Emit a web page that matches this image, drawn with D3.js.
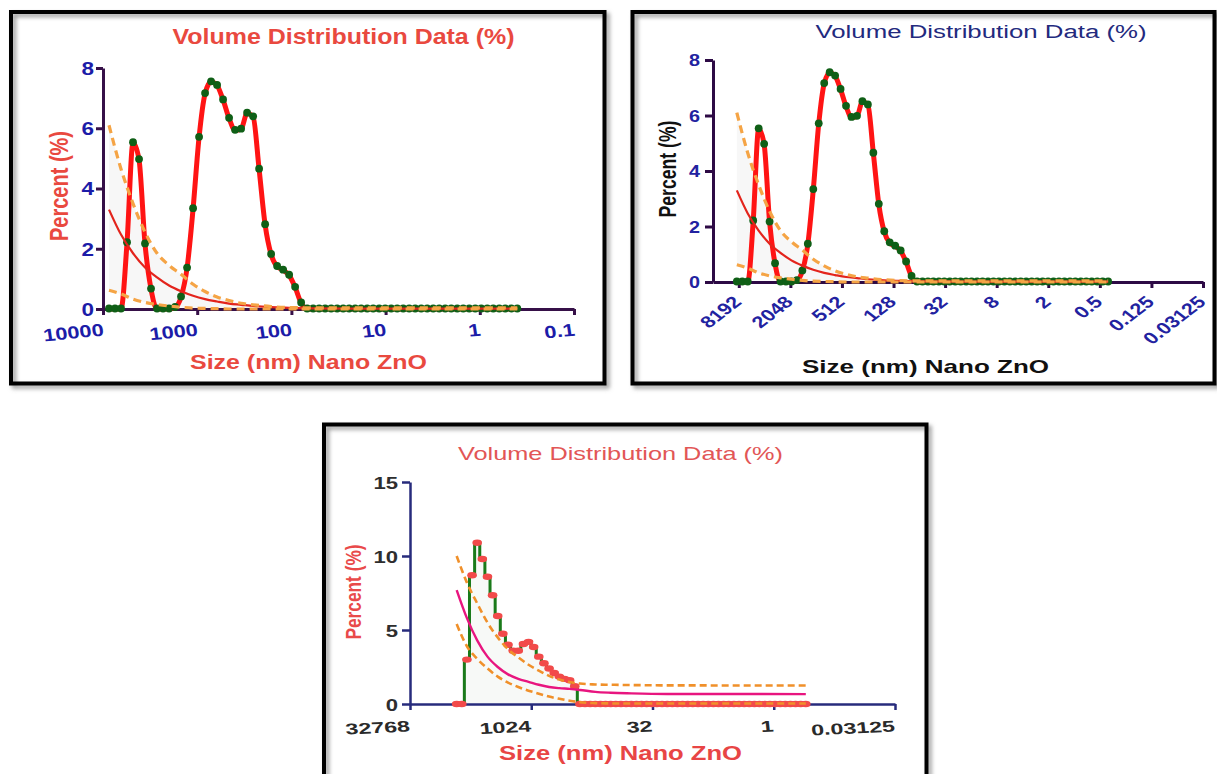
<!DOCTYPE html>
<html>
<head>
<meta charset="utf-8">
<script src="https://cdn.jsdelivr.net/npm/d3@7/dist/d3.min.js"></script>
<style>
  body { margin: 0; background: #fff; }
  svg { display: block; }
</style>
</head>
<body>
<svg></svg>
<script>
// size classes (nm), largest first
const sizeBins = [8635, 7456, 6439, 5560, 4801, 4145, 3580, 3091, 2669, 2305, 1990, 1718, 1484, 1281, 1106,
  955.4, 825.0, 712.4, 615.1, 531.2, 458.7, 396.1, 342.0, 295.3, 255.0, 220.2, 190.1, 164.2, 141.8, 122.4,
  105.7, 91.28, 78.82, 68.06, 58.77, 50.75, 43.82, 37.84, 32.67, 28.21, 24.36, 21.04, 18.17, 15.69, 13.54,
  11.7, 10.1, 8.721, 7.531, 6.503, 5.615, 4.849, 4.187, 3.615, 3.122, 2.696, 2.328, 2.01, 1.736, 1.499,
  1.294, 1.117, 0.9649, 0.8332, 0.7195, 0.6213, 0.5365, 0.4632, 0.4];

// volume % (top two charts)
const volumeA = [0, 0, 0, 2.2, 5.52, 4.96, 2.16, 0.66, 0, 0, 0, 0.05, 0.4, 1.36, 3.33,
  5.7, 7.15, 7.54, 7.42, 6.94, 6.33, 5.93, 5.97, 6.5, 6.38, 4.64, 2.8, 1.81, 1.41, 1.29,
  1.12, 0.72, 0.2, 0, 0, 0, 0, 0, 0, 0, 0, 0, 0, 0, 0,
  0, 0, 0, 0, 0, 0, 0, 0, 0, 0, 0, 0, 0, 0, 0,
  0, 0, 0, 0, 0, 0, 0, 0, 0];

// volume % (bottom chart)
const volumeB = [0, 0, 3.0, 8.7, 10.9, 9.8, 8.6, 7.35, 5.95, 4.75, 4.0, 3.6, 3.6, 4.05, 4.2,
  3.85, 3.2, 2.75, 2.4, 2.1, 1.85, 1.7, 1.6, 1.2, 0, 0, 0, 0, 0, 0,
  0, 0, 0, 0, 0, 0, 0, 0, 0, 0, 0, 0, 0, 0, 0,
  0, 0, 0, 0, 0, 0, 0, 0, 0, 0, 0, 0, 0, 0, 0,
  0, 0, 0, 0, 0, 0, 0, 0, 0];

// fitted decay curves and their bands
const fitSizes = [8635, 6439, 4801, 3580, 2669, 1990, 1484, 1106, 825, 615.1, 458.7, 342, 255, 164.2, 105.7, 58.77, 21.04, 0.4];
const fitMidA  = [3.3, 2.47, 1.85, 1.38, 1.05, 0.78, 0.59, 0.44, 0.33, 0.25, 0.18, 0.14, 0.1, 0.06, 0.04, 0.02, 0.01, 0.01];
const fitHighA = [6.1, 4.65, 3.5, 2.55, 1.85, 1.45, 1.15, 0.82, 0.58, 0.4, 0.28, 0.19, 0.14, 0.08, 0.05, 0.04, 0.04, 0.04];
const fitLowA  = [0.62, 0.5, 0.33, 0.22, 0.15, 0.1, 0.06, 0.03, 0.02, 0.01, 0, 0, 0, 0, 0, 0, 0, 0];
const fitMidB  = [7.7, 5.8, 4.3, 3.2, 2.5, 2.0, 1.7, 1.5, 1.3, 1.15, 1.07, 1.02, 0.95, 0.82, 0.76, 0.72, 0.68, 0.67];
const fitHighB = [10.0, 8.2, 6.8, 5.5, 4.5, 3.7, 3.15, 2.65, 2.25, 1.9, 1.65, 1.48, 1.38, 1.32, 1.3, 1.28, 1.26, 1.25];
const fitLowB  = [5.4, 3.9, 3.05, 2.4, 1.85, 1.45, 1.15, 0.9, 0.7, 0.5, 0.35, 0.22, 0.12, 0.06, 0.04, 0.03, 0.03, 0.03];

const p1XTicks = [10000, 1000, 100, 10, 1, 0.1];
const p1YTicks = [0, 2, 4, 6, 8];
const p2XTicks = [8192, 2048, 512, 128, 32, 8, 2, 0.5, 0.125, 0.03125];
const p2YTicks = [0, 2, 4, 6, 8];
const p3XTicks = [32768, 1024, 32, 1, 0.03125];
const p3YTicks = [0, 5, 10, 15];

const titleText = "Volume Distribution Data (%)";
const xTitleText = "Size (nm) Nano ZnO";
const yTitleText = "Percent (%)";

const FONT = "'Liberation Sans', Arial, sans-serif";

let svg = d3.select("svg").attr("width", 1217).attr("height", 774);

svg.append("defs").append("filter").attr("id", "soft")
    .append("feGaussianBlur").attr("stdDeviation", 2);

function drawFrame(x, y, w, h) {
    svg.append("rect")
        .attr("x", x + 3).attr("y", y + 3).attr("width", w).attr("height", h)
        .attr("fill", "none").attr("stroke", "#9a9a9a").attr("stroke-width", 4)
        .attr("filter", "url(#soft)");
    svg.append("rect")
        .attr("x", x).attr("y", y).attr("width", w).attr("height", h)
        .attr("fill", "none").attr("stroke", "#000").attr("stroke-width", 4);
}

function putText(g, str, o) {
    return g.append("text")
        .attr("transform", `translate(${o.x},${o.y})` + (o.rot ? ` rotate(${o.rot})` : ""))
        .attr("text-anchor", "middle")
        .attr("font-family", FONT)
        .attr("font-size", o.size)
        .attr("font-weight", o.bold ? "bold" : "normal")
        .attr("fill", o.color)
        .attr("textLength", o.len)
        .attr("lengthAdjust", "spacingAndGlyphs")
        .text(str);
}

function styleAxis(ax, color, width) {
    ax.attr("font-family", FONT);
    ax.select(".domain").attr("stroke", color).attr("stroke-width", width);
    ax.selectAll(".tick line").attr("stroke", color).attr("stroke-width", width);
}

function xLabels(ax, o) {
    ax.selectAll(".tick text")
        .attr("y", 0).attr("dy", 0)
        .attr("text-anchor", "end")
        .attr("font-size", o.size)
        .attr("font-weight", "bold")
        .attr("fill", o.color)
        .attr("transform", `translate(${o.dx},${o.dy}) scale(${o.sx},1) rotate(${o.rot})`);
}

function yLabels(ax, o) {
    ax.selectAll(".tick text")
        .attr("x", 0).attr("dy", "0.36em")
        .attr("text-anchor", "end")
        .attr("font-size", o.size)
        .attr("font-weight", "bold")
        .attr("fill", o.color)
        .attr("transform", `translate(${o.dx},0) scale(${o.sx},1)`);
}

function fitRows(mid, hi, lo) {
    return fitSizes.map((s, i) => ({ s: s, mid: mid[i], hi: hi[i], lo: lo[i] }));
}

// top charts: smooth red line with green dots
function drawDotChart(g, x, y, c) {
    let pts = sizeBins.map((s, i) => ({ s: s, v: volumeA[i] }));
    let fit = fitRows(fitMidA, fitHighA, fitLowA);

    g.append("path").datum(fit)
        .attr("d", d3.area().x(d => x(d.s)).y0(d => y(d.lo)).y1(d => y(d.hi)).curve(d3.curveMonotoneX))
        .attr("fill", "#f7f7f7");

    let xa = g.append("g").attr("transform", `translate(0,${y(0)})`)
        .call(d3.axisBottom(x).tickValues(c.xTicks).tickFormat(d => d).tickSize(6).tickSizeOuter(0));
    styleAxis(xa, c.axisColor, 3);
    xLabels(xa, c.xLab);

    let ya = g.append("g").attr("transform", `translate(${x.range()[0]},0)`)
        .call(d3.axisLeft(y).tickValues(c.yTicks).tickFormat(d => d).tickSize(c.yTick).tickSizeOuter(0));
    styleAxis(ya, c.axisColor, 3);
    yLabels(ya, c.yLab);

    g.append("path").datum(pts)
        .attr("d", d3.line().x(d => x(d.s)).y(d => y(d.v)).curve(d3.curveMonotoneX))
        .attr("fill", "none").attr("stroke", "#ff1414").attr("stroke-width", 5)
        .attr("stroke-linejoin", "round");

    g.selectAll("circle.pt").data(pts).join("circle")
        .attr("class", "pt")
        .attr("cx", d => x(d.s)).attr("cy", d => y(d.v) - 0.5).attr("r", 3.9)
        .attr("fill", "#0f5f16");

    let fitLine = key => d3.line().x(d => x(d.s)).y(d => y(d[key])).curve(d3.curveMonotoneX);
    g.append("path").datum(fit).attr("d", fitLine("mid"))
        .attr("fill", "none").attr("stroke", "#e3241c").attr("stroke-width", 2.2);
    ["hi", "lo"].forEach(k => {
        g.append("path").datum(fit).attr("d", fitLine(k))
            .attr("fill", "none").attr("stroke", "#f5a445").attr("stroke-width", 3.2)
            .attr("stroke-dasharray", "8,5");
    });
}

// ---- chart 1 ----
drawFrame(11, 12, 593.5, 371.5);
let g1 = svg.append("g");
let x1 = d3.scaleLog().domain([10000, 0.1]).range([103, 574]);
let y1 = d3.scaleLinear().domain([0, 8]).range([309, 68]);
drawDotChart(g1, x1, y1, {
    xTicks: p1XTicks, yTicks: p1YTicks, axisColor: "#361048", yTick: 7,
    xLab: { size: 17.5, color: "#1c1ca8", dx: 1, dy: 26.5, sx: 1.25, rot: -7 },
    yLab: { size: 18, color: "#1c1ca8", dx: -9, sx: 1.25 }
});
putText(g1, titleText, { x: 343.5, y: 43.5, size: 21.5, bold: true, color: "#e9493f", len: 342 });
putText(g1, xTitleText, { x: 308.5, y: 368.5, size: 20.5, bold: true, color: "#e9493f", len: 237 });
putText(g1, yTitleText, { x: 68, y: 186, rot: -90, size: 25, bold: true, color: "#e9493f", len: 110 });

// ---- chart 2 ----
drawFrame(632.5, 12, 582, 371.5);
let g2 = svg.append("g");
let x2 = d3.scaleLog().base(2).domain([16384, 0.03125]).range([713, 1203]);
let y2 = d3.scaleLinear().domain([0, 8]).range([282, 60]);
drawDotChart(g2, x2, y2, {
    xTicks: p2XTicks, yTicks: p2YTicks, axisColor: "#2d0a45", yTick: 8,
    xLab: { size: 16.5, color: "#2222a0", dx: 3.4, dy: 21, sx: 1.3, rot: -45 },
    yLab: { size: 16.5, color: "#2222a0", dx: -13, sx: 1.2 }
});
putText(g2, titleText, { x: 981, y: 37.5, size: 18, bold: false, color: "#232a7e", len: 331 });
putText(g2, xTitleText, { x: 925.5, y: 372.5, size: 19, bold: true, color: "#111", len: 247 });
putText(g2, yTitleText, { x: 676, y: 169, rot: -90, size: 24, bold: true, color: "#111", len: 97 });

// ---- chart 3 ----
drawFrame(324, 424.5, 602.5, 360);
let g3 = svg.append("g");
let x3 = d3.scaleLog().base(2).domain([32768, 0.03125]).range([410, 895]);
let y3 = d3.scaleLinear().domain([0, 15]).range([704, 482]);

let pts3 = sizeBins.map((s, i) => ({ s: s, v: volumeB[i] }));
let fit3 = fitRows(fitMidB, fitHighB, fitLowB);

g3.append("path").datum(pts3)
    .attr("d", d3.area().x(d => x3(d.s)).y0(y3(0)).y1(d => y3(d.v)).curve(d3.curveStep))
    .attr("fill", "#f7f9f7");

let xa3 = g3.append("g").attr("transform", `translate(0,${y3(0)})`)
    .call(d3.axisBottom(x3).tickValues(p3XTicks).tickFormat(d => d).tickSize(6).tickSizeOuter(0));
styleAxis(xa3, "#272b7c", 2.5);
xLabels(xa3, { size: 15.5, color: "#2a2a2a", dx: 0, dy: 27.5, sx: 1.5, rot: -4 });

let ya3 = g3.append("g").attr("transform", `translate(${x3.range()[0]},0)`)
    .call(d3.axisLeft(y3).tickValues(p3YTicks).tickFormat(d => d).tickSize(8).tickSizeOuter(0));
styleAxis(ya3, "#272b7c", 2.5);
yLabels(ya3, { size: 17, color: "#2e2e2e", dx: -12, sx: 1.3 });

g3.append("path").datum(pts3)
    .attr("d", d3.line().x(d => x3(d.s)).y(d => y3(d.v)).curve(d3.curveStep))
    .attr("fill", "none").attr("stroke", "#1a7a1a").attr("stroke-width", 3);

g3.selectAll("ellipse.pt").data(pts3).join("ellipse")
    .attr("class", "pt")
    .attr("cx", d => x3(d.s)).attr("cy", d => y3(d.v))
    .attr("rx", 4.8).attr("ry", 3.2)
    .attr("fill", "#f24a4a");

let fitLine3 = key => d3.line().x(d => x3(d.s)).y(d => y3(d[key])).curve(d3.curveMonotoneX);
["hi", "lo"].forEach(k => {
    g3.append("path").datum(fit3).attr("d", fitLine3(k))
        .attr("fill", "none").attr("stroke", "#f0902a").attr("stroke-width", 2.6)
        .attr("stroke-dasharray", "7,4");
});
g3.append("path").datum(fit3).attr("d", fitLine3("mid"))
    .attr("fill", "none").attr("stroke", "#e8157f").attr("stroke-width", 2.4);

putText(g3, titleText, { x: 620.5, y: 460, size: 18.5, bold: false, color: "#e25656", len: 325 });
putText(g3, xTitleText, { x: 620.5, y: 760, size: 20, bold: true, color: "#e84545", len: 243 });
putText(g3, yTitleText, { x: 361, y: 592, rot: -90, size: 22, bold: true, color: "#e94a4a", len: 95 });
</script>
</body>
</html>
